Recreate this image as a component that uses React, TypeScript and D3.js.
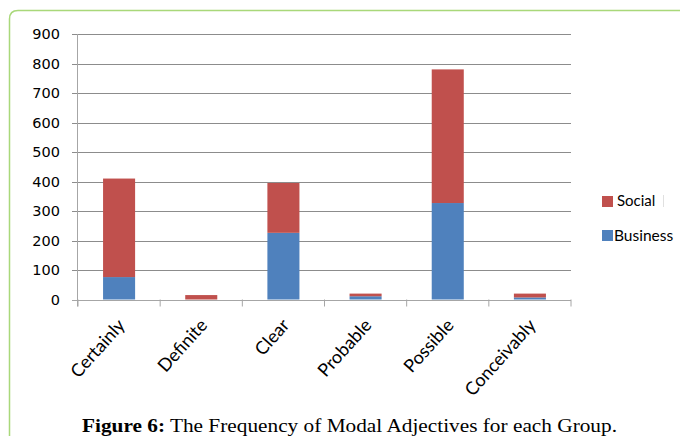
import React from "react";
import * as d3 from "d3";

const categories = ["Certainly", "Definite", "Clear", "Probable", "Possible", "Conceivably"];
const business = [76, 0, 226, 11, 327, 7];
const social = [334, 15, 169, 9, 453, 13];
const yTicks = [0, 100, 200, 300, 400, 500, 600, 700, 800, 900];
const seriesNames = ["Business", "Social"];
const seriesColors = ["#4f81bd", "#c0504d"];

const W = 680;
const H = 436;
const plot = { left: 78, right: 571, top: 34, bottom: 299.5 };

export default function App() {
  const x = d3
    .scaleBand<string>()
    .domain(categories)
    .range([plot.left, plot.right])
    .paddingInner(0.61)
    .paddingOuter(0.305);
  const y = d3.scaleLinear().domain([0, 900]).range([plot.bottom, plot.top]);

  const rows = categories.map((c, i) => ({ cat: c, Business: business[i], Social: social[i] }));
  const stacked = d3.stack<any>().keys(seriesNames)(rows);

  const step = (plot.right - plot.left) / categories.length;
  const boundaries = d3.range(categories.length + 1).map((i) => plot.left + i * step);

  return (
    <svg
      width={W}
      height={H}
      style={{ position: "absolute", left: 0, top: 0, background: "#fff" }}
    >
      {/* rounded frame */}
      <path
        d={`M9.5,${H + 10} V19 Q9.5,10.5 18,10.5 H${W + 10}`}
        fill="none"
        stroke="#a9d87a"
        strokeWidth={1.5}
      />

      {/* gridlines */}
      {yTicks.map((t) => (
        <line
          key={t}
          x1={plot.left - 6}
          x2={plot.right}
          y1={Math.round(y(t)) + 0.5}
          y2={Math.round(y(t)) + 0.5}
          stroke={t === 0 ? "#a6a6a6" : "#8c8c8c"}
          strokeWidth={1}
        />
      ))}
      {/* y axis line */}
      <line x1={plot.left - 0.5} x2={plot.left - 0.5} y1={plot.top} y2={plot.bottom + 7} stroke="#a6a6a6" />
      {/* x ticks */}
      {boundaries.map((b, i) => (
        <line key={i} x1={b} x2={b} y1={plot.bottom} y2={plot.bottom + 7} stroke="#a6a6a6" />
      ))}

      {/* y tick labels */}
      {yTicks.map((t) => (
        <text
          key={t}
          x={60}
          y={y(t) + 5}
          textAnchor="end"
          fontFamily="DejaVu Sans"
          fontSize={14.5}
          fill="#000"
        >
          {t}
        </text>
      ))}

      {/* bars */}
      {stacked.map((layer, si) => (
        <g key={layer.key} fill={seriesColors[si]}>
          {layer.map((d, i) =>
            d[1] - d[0] > 0 ? (
              <rect
                key={i}
                x={x(categories[i])}
                y={y(d[1])}
                width={x.bandwidth()}
                height={y(d[0]) - y(d[1])}
              />
            ) : null
          )}
        </g>
      ))}

      {/* category labels */}
      {categories.map((c) => {
        const cx = (x(c) as number) + x.bandwidth() / 2 + 7;
        const cy = 326;
        return (
          <text
            key={c}
            transform={`translate(${cx},${cy}) rotate(-48)`}
            textAnchor="end"
            fontFamily="Lato"
            fontSize={18}
            fill="#000"
          >
            {c}
          </text>
        );
      })}

      {/* legend */}
      <rect x={602} y={196} width={11} height={11} fill={seriesColors[1]} />
      <text x={617} y={206} fontFamily="Lato" fontSize={15} fill="#000">
        Social
      </text>
      <line x1={663.5} x2={663.5} y1={195} y2={207} stroke="#e0e0e0" />
      <rect x={602} y={230} width={11} height={11} fill={seriesColors[0]} />
      <text x={614} y={241} fontFamily="Lato" fontSize={15.5} fill="#000">
        Business
      </text>

      {/* caption */}
      <text
        x={82}
        y={432}
        fontFamily="Liberation Serif"
        fontSize={18.5}
        fill="#000"
        textLength={535}
        lengthAdjust="spacingAndGlyphs"
      >
        <tspan fontWeight="bold">Figure 6:</tspan>
        <tspan> The Frequency of Modal Adjectives for each Group.</tspan>
      </text>
    </svg>
  );
}
